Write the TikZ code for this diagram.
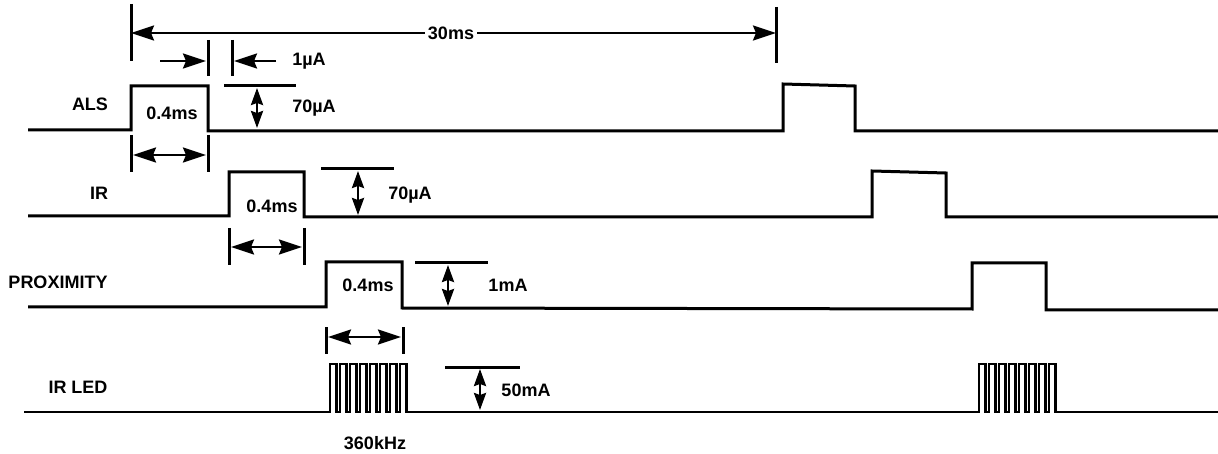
\documentclass[tikz,border=0pt]{standalone}
\usepackage{fontspec}
\setmainfont{Liberation Sans}
\usetikzlibrary{arrows.meta}
\tikzset{
  wave/.style = {line width=3pt, line join=miter},
  burst/.style = {line width=2.5pt, line join=miter},
  tickln/.style = {line width=3pt},
  lbl/.style = {inner sep=1pt, font=\bfseries\fontsize{18}{20}\selectfont},
  hdim/.style = {line width=2.5pt},
  vdim/.style = {line width=2.5pt, {Stealth[length=17pt,width=12pt,inset=2pt]}-{Stealth[length=17pt,width=12pt,inset=2pt]}}
}

\begin{document}
\begin{tikzpicture}[x=1pt, y=-1pt, >={Stealth[length=23pt,width=15pt,inset=3pt]}]
	\useasboundingbox (0,0) rectangle (1218,454);
	% waveforms
	\draw[wave] (28,130) -- (131,130) -- (131,86) -- (208,86) -- (208,131) -- (783,131)
		-- (783,84) -- (855,86) -- (855,131) -- (1218,131);
	\draw[wave] (28,216) -- (229,216) -- (229,172) -- (304,172) -- (304,217) -- (872,217)
		-- (872,171) -- (946,173) -- (946,217) -- (1218,217);
	\draw[wave] (28,307) -- (326,307) -- (326,262) -- (402,262) -- (402,308) -- (972,309)
		-- (972,263) -- (1046,263) -- (1046,310) -- (1218,310);
	\draw[burst] (24,412) -- (330,412)
		\foreach \k in {0,...,7}{ -- (330+10*\k,364) -- (336.5+10*\k,364) -- (336.5+10*\k,412) -- (340+10*\k,412) }
		-- (979,412)
		\foreach \k in {0,...,7}{ -- (979+10*\k,364) -- (985.5+10*\k,364) -- (985.5+10*\k,412) -- (989+10*\k,412) }
		-- (1218,412);
	% ticks and reference lines
	\foreach \x/\ya/\yb in {131/4/61, 776/7/63, 208/40/76, 232/40/76, 131/135/172, 208/135/172,
		229/228/265, 304/228/265, 326/327/354, 403/327/354}
		\draw[tickln] (\x,\ya) -- (\x,\yb);
	\foreach \xa/\xb/\y in {224/296/86, 321/394/169, 415/488/263, 445/520/367}
		\draw[tickln] (\xa,\y) -- (\xb,\y);
	% labels
	\node[lbl] (als) at (90,104) {ALS};
	\node[lbl] (alsW) at (172,113) {0.4ms};
	\node[lbl] (alsOff) at (309,61) {1µA};
	\node[lbl] (alsI) at (314,108) {70µA};
	\node[lbl, fill=white, inner sep=3pt] (period) at (451,33) {30ms};
	\node[lbl] (ir) at (99,193) {IR};
	\node[lbl] (irW) at (272,206) {0.4ms};
	\node[lbl] (irI) at (410,195) {70µA};
	\node[lbl] (prox) at (58,282) {PROXIMITY};
	\node[lbl] (proxW) at (368,285) {0.4ms};
	\node[lbl] (proxI) at (508,285) {1mA};
	\node[lbl] (led) at (78,387) {IR LED};
	\node[lbl] (ledI) at (526,390) {50mA};
	\node[lbl] (ledF) at (375,443) {360kHz};
	% dimension arrows
	\coordinate (pL) at (131,33);
	\coordinate (pR) at (776,33);
	\draw[hdim,<-] (pL) -- (period);
	\draw[hdim,->] (period) -- (pR);
	\coordinate (offA) at (160,61);
	\coordinate (offB) at (206,61);
	\coordinate (offC) at (276,61);
	\coordinate (offD) at (234,61);
	\draw[hdim,->] (offA) -- (offB);
	\draw[hdim,->] (offC) -- (offD);
	\coordinate (alsL) at (133,155);
	\coordinate (alsR) at (206,155);
	\draw[hdim,<->] (alsL) -- (alsR);
	\coordinate (irL) at (231,247);
	\coordinate (irR) at (302,247);
	\draw[hdim,<->] (irL) -- (irR);
	\coordinate (proxL) at (328,337);
	\coordinate (proxR) at (401,337);
	\draw[hdim,<->] (proxL) -- (proxR);
	\coordinate (alsT) at (257,88);
	\coordinate (alsB) at (257,128);
	\draw[vdim] (alsT) -- (alsB);
	\coordinate (irT) at (358,171);
	\coordinate (irB) at (358,215);
	\draw[vdim] (irT) -- (irB);
	\coordinate (proxT) at (448,265);
	\coordinate (proxB) at (448,306);
	\draw[vdim] (proxT) -- (proxB);
	\coordinate (ledT) at (480,369);
	\coordinate (ledB) at (480,410);
	\draw[vdim] (ledT) -- (ledB);
\end{tikzpicture}
\end{document}
